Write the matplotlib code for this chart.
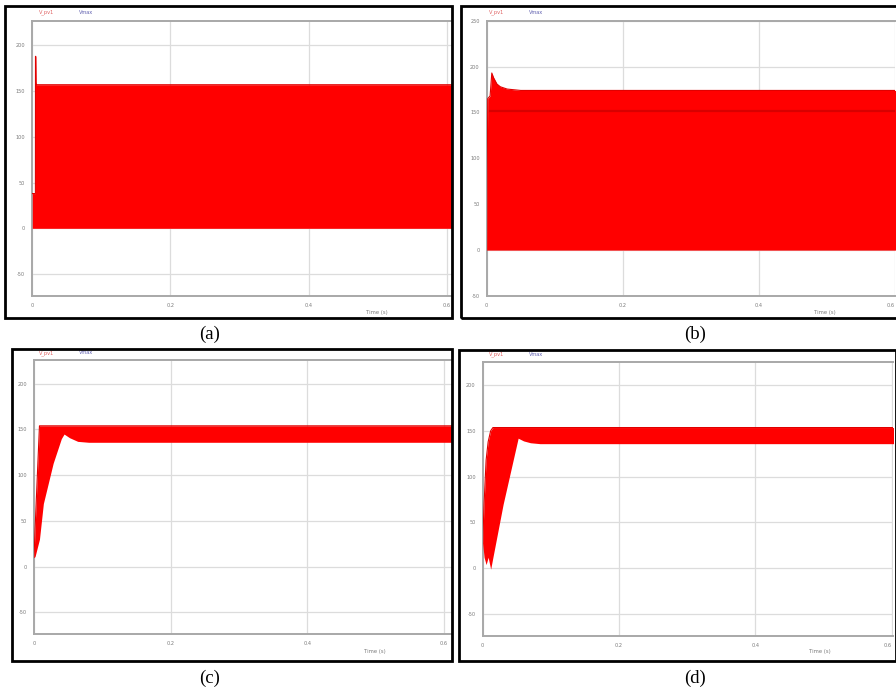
import matplotlib
matplotlib.use("Agg")
import matplotlib.pyplot as plt
from matplotlib.patches import Rectangle
from matplotlib.transforms import Bbox, TransformedBbox

W, H = 896, 691

# ---------------- data ----------------
time_ticks = [0, 0.2, 0.4, 0.6]
time_tick_labels = ["0", "0.2", "0.4", "0.6"]

# (a) envelope of the PWM waveform
a_t     = [0.0, 0.0045, 0.0046, 0.0050, 0.0054, 0.0058, 0.62]
a_upper = [38,  38,     188,    188,    160,    157,    157]
a_lower = [0,   0,      0,      0,      0,      0,      0]
a_ticks = [-50, 0, 50, 100, 150, 200]

# (b)
b_t     = [0.0, 0.0015, 0.0050, 0.0075, 0.010, 0.015, 0.020, 0.030, 0.050, 0.62]
b_upper = [0,   165,    168,    193,    188,   181,   178,   175.5, 174,   174]
b_lower = [0,   0,      0,      0,      0,     0,     0,     0,     0,     0]
b_mid_t = [0.005, 0.62]
b_mid   = [152, 152]
b_ticks = [-50, 0, 50, 100, 150, 200, 250]

# (c)
c_t     = [0.0, 0.0015, 0.008, 0.0137, 0.028, 0.040, 0.044, 0.052, 0.064, 0.080, 0.62]
c_upper = [10,  40,     154,   154,    154,   154,   154,   154,   154,   154,   154]
c_lower = [10,  11,     30,    69,     113,   140,   145,   141,   137,   136,   136]
c_ticks = [-50, 0, 50, 100, 150, 200]

# (d)
d_t     = [0.0, 0.002, 0.005, 0.008, 0.0117, 0.015, 0.030, 0.052, 0.060, 0.070, 0.084, 0.62]
d_upper = [27,  70,    118,   138,   150,    153.6, 153.6, 153.6, 153.6, 153.6, 153.6, 153.6]
d_lower = [27,  12,    4,     12,    -1,     12,    70,    142,   139,   137,   136,   136]
d_ticks = [-50, 0, 50, 100, 150, 200]

legend_red = "V_pv1"
legend_blue = "Vmax"
time_label = "Time (s)"
panel_labels = ["(a)", "(b)", "(c)", "(d)"]

# ---------------- layout ----------------
fig = plt.figure(figsize=(W / 100, H / 100), dpi=100)
fig.patch.set_facecolor("white")


def fx(x):
    return x / W


def fy(y):
    return 1 - y / H


def make_panel(frame, axbox, xmax, ylim, yticks, t, up, lo, time_xy,
               leg_xy, label_xy, label, extra=None, last_right=False):
    fl, ft, fr, fb = frame
    rect = Rectangle((fx(fl), fy(fb)), fx(fr - fl), (fb - ft) / H,
                     transform=fig.transFigure, fill=False, lw=2.0,
                     ec="black", zorder=10)
    fig.patches.append(rect)
    clip = TransformedBbox(Bbox([[fx(fl), fy(fb)], [fx(fr), fy(ft)]]),
                           fig.transFigure)

    l, tp, r, b = axbox
    ax = fig.add_axes([fx(l), fy(b), fx(r - l), (b - tp) / H])
    ax.set_xlim(0, xmax)
    ax.set_ylim(*ylim)
    ax.set_xticks(time_ticks)
    ax.set_xticklabels(time_tick_labels)
    ax.set_yticks(yticks)
    ax.set_yticklabels([str(v) for v in yticks])
    ax.tick_params(length=0, labelsize=3.6, colors="#7a7a7a", pad=5)
    ax.grid(True, color="#dcdcdc", lw=0.9)
    ax.set_axisbelow(True)
    for s in ["left", "bottom", "top"]:
        ax.spines[s].set_color("#a8a8a8")
        ax.spines[s].set_linewidth(1.4)
    ax.spines["right"].set_visible(False)

    ax.fill_between(t, lo, up, color="#ff0000", lw=0, zorder=3)
    ax.plot(t, up, color="#e00000", lw=0.8, zorder=4)
    if extra is not None:
        ax.plot(extra[0], extra[1], color="#d80000", lw=1.6, zorder=4)

    ticks = ax.xaxis.get_major_ticks()
    for tick in ticks:
        tick.label1.set_clip_box(clip)
        tick.label1.set_clip_on(True)
    if last_right:
        ticks[-1].label1.set_horizontalalignment("right")

    fig.text(fx(time_xy[0]), fy(time_xy[1]), time_label, fontsize=3.8,
             color="#7a7a7a", ha="center", va="center")
    fig.text(fx(leg_xy[0]), fy(leg_xy[1]), legend_red, fontsize=3.6,
             color="#e06060", ha="center", va="center")
    fig.text(fx(leg_xy[0] + 39), fy(leg_xy[1]), legend_blue, fontsize=3.6,
             color="#6060b0", ha="center", va="center")
    fig.text(fx(label_xy[0]), fy(label_xy[1]), label, fontsize=13.5,
             family="Liberation Serif", ha="center", va="center")
    return ax


make_panel((5, 6, 452, 318), (32.3, 20.7, 452, 296), 0.6077, (-74, 227),
           a_ticks, a_t, a_upper, a_lower, (377, 312), (47, 12),
           (210, 334), panel_labels[0])

make_panel((461, 6, 900, 318), (486.7, 20.7, 895, 296), 0.5975, (-50, 250),
           b_ticks, b_t, b_upper, b_lower, (825, 312), (497, 12),
           (695, 334), panel_labels[1], extra=(b_mid_t, b_mid),
           last_right=True)

make_panel((12, 349, 452, 661), (34, 360, 452, 634.3), 0.6117, (-74, 226),
           c_ticks, c_t, c_upper, c_lower, (375, 651), (47, 353),
           (210, 678), panel_labels[2])

make_panel((459, 350, 896, 661), (482.7, 361.7, 893, 636), 0.602,
           (-74, 225.5), d_ticks, d_t, d_upper, d_lower, (820, 651),
           (497, 354), (695, 678), panel_labels[3], last_right=True)

fig.savefig("out.png", dpi=100)
